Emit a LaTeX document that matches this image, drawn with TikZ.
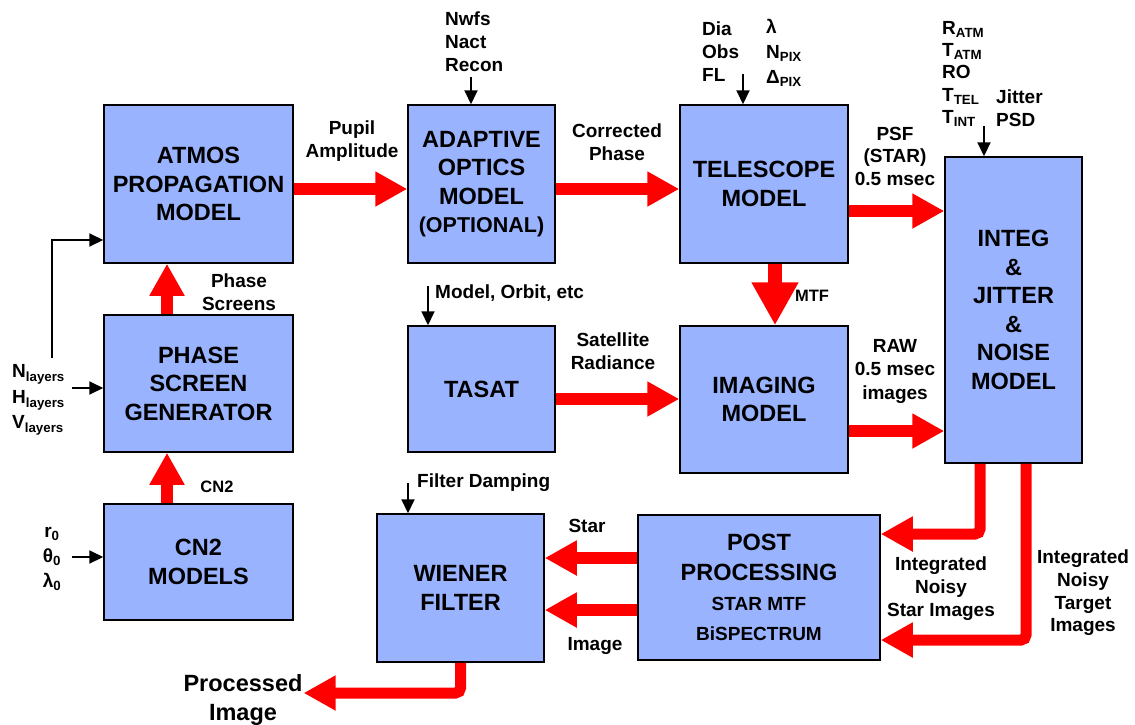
\documentclass[tikz,border=0pt]{standalone}
\usepackage{fontspec}
\setmainfont{Liberation Sans}
\usetikzlibrary{arrows.meta}
\definecolor{boxblue}{RGB}{153,179,255}

\begin{document}
\begin{tikzpicture}[x=1pt, y=-1pt,
  box/.style={draw, line width=1.5pt, fill=boxblue, align=center, inner sep=0pt, font=\bfseries\fontsize{23.5}{28.5}\selectfont},
  lbl/.style={align=center, inner sep=1pt, font=\bfseries\fontsize{19}{23}\selectfont},
  parm/.style={lbl, align=left, anchor=west},
  flow/.style={-{Triangle[length=32pt,width=33pt]}, line width=12pt, red, rounded corners=5pt},
  inp/.style={-{Triangle[length=14pt,width=13pt]}, line width=2pt},
]
\useasboundingbox (0,0) rectangle (1135,724);
\node[box, minimum width=189pt, minimum height=158pt] (atmos) at (198.5,184) {ATMOS\\PROPAGATION\\MODEL};
\node[box, minimum width=189pt, minimum height=137pt] (psg) at (198.5,383.5) {PHASE\\SCREEN\\GENERATOR};
\node[box, minimum width=189pt, minimum height=116pt] (cn2) at (198.5,562) {CN2\\MODELS};
\node[box, minimum width=147pt, minimum height=158pt] (ao) at (481.5,184) {ADAPTIVE\\OPTICS\\MODEL\\\fontsize{21.5}{28.5}\selectfont(OPTIONAL)};
\node[box, minimum width=147pt, minimum height=126pt] (tasat) at (481.5,389) {TASAT};
\node[box, minimum width=168pt, minimum height=158pt] (tel) at (764,184) {TELESCOPE\\MODEL};
\node[box, minimum width=168pt, minimum height=147pt] (img) at (764,399.5) {IMAGING\\MODEL};
\node[box, minimum width=137pt, minimum height=306pt] (integ) at (1013.5,310) {INTEG\\\&\\JITTER\\\&\\NOISE\\MODEL};
\node[box, minimum width=242pt, minimum height=145pt, font=\bfseries\fontsize{23.5}{30}\selectfont] (post) at (759,587.5) {POST\\PROCESSING\\\fontsize{19}{24.5}\selectfont STAR MTF\\\fontsize{19}{23}\selectfont BiSPECTRUM};
\node[box, minimum width=167pt, minimum height=148pt] (wien) at (460.5,588) {WIENER\\FILTER};

\node[lbl] (pupil) at (352,141) {Pupil\\Amplitude};
\node[lbl] (corr) at (617,142) {Corrected\\Phase};
\node[lbl, font=\bfseries\fontsize{19}{22.5}\selectfont] (psf) at (895,156) {PSF\\(STAR)\\0.5 msec};
\node[lbl, font=\bfseries\fontsize{16.5}{20}\selectfont] (mtf) at (812,296) {MTF};
\node[lbl] (satrad) at (613,351) {Satellite\\Radiance};
\node[lbl, font=\bfseries\fontsize{19}{23.5}\selectfont] (raw) at (895,371) {RAW\\0.5 msec\\images};
\node[lbl] (screens) at (239,292) {Phase\\Screens};
\node[lbl, font=\bfseries\fontsize{16.5}{20}\selectfont] (cn2lbl) at (217,487) {CN2};
\node[lbl] (starimg) at (941,589) {Integrated\\Noisy\\Star Images};
\node[lbl, font=\bfseries\fontsize{19}{22.7}\selectfont] (tgtimg) at (1083,593) {Integrated\\Noisy\\Target\\Images};
\node[lbl] (star) at (587,526) {Star};
\node[lbl] (image) at (595,646) {Image};
\node[lbl, font=\bfseries\fontsize{23.5}{29}\selectfont] (out) at (243,700) {Processed\\Image};

\node[parm] (nwfs) at (444,42) {Nwfs\\Nact\\Recon};
\node[parm] (dia) at (701,52) {Dia\\Obs\\FL};
\node[parm, font=\bfseries\fontsize{19}{25}\selectfont] (lam) at (765,53) {λ\\N\textsubscript{PIX}\\Δ\textsubscript{PIX}};
\node[parm, font=\bfseries\fontsize{19}{22.3}\selectfont] (ratm) at (941,74) {R\textsubscript{ATM}\\T\textsubscript{ATM}\\RO\\T\textsubscript{TEL}\\T\textsubscript{INT}};
\node[parm] (jit) at (995,108) {Jitter\\PSD};
\node[parm] (orbit) at (434,293) {Model, Orbit, etc};
\node[parm] (damp) at (416,483) {Filter Damping};
\node[parm, font=\bfseries\fontsize{19}{25.5}\selectfont] (layers) at (11,400) {N\textsubscript{layers}\\H\textsubscript{layers}\\V\textsubscript{layers}};
\node[lbl, font=\bfseries\fontsize{19}{25}\selectfont] (seeing) at (52,559) {r\textsubscript{0}\\θ\textsubscript{0}\\λ\textsubscript{0}};

\coordinate (aoin) at (471,77);
\coordinate (telin) at (743,74);
\coordinate (integin) at (984,126);
\coordinate (tasin) at (428,286);
\coordinate (wienin) at (408,483);
\coordinate (atmin) at (52,358);
\coordinate (psgin) at (72,388);
\coordinate (cn2in) at (72,557);

\draw[inp] (aoin) -- (aoin |- ao.north);
\draw[inp] (telin) -- (telin |- tel.north);
\draw[inp] (integin) -- (integin |- integ.north);
\draw[inp] (tasin) -- (tasin |- tasat.north);
\draw[inp] (wienin) -- (wienin |- wien.north);
\draw[inp] (atmin) |- ([yshift=-56pt]atmos.west);
\draw[inp] (psgin) -- (psgin -| psg.west);
\draw[inp] (cn2in) -- (cn2in -| cn2.west);

\draw[flow] ([yshift=-5pt]atmos.east) -- ([yshift=-5pt]atmos.east -| ao.west);
\draw[flow] ([yshift=-5pt]ao.east) -- ([yshift=-5pt]ao.east -| tel.west);
\draw[flow] ([yshift=-27pt]tel.east) -- ([yshift=-27pt]tel.east -| integ.west);
\draw[flow, line width=14pt, -{Triangle[length=43pt,width=44pt]}] ([xshift=11pt]tel.south) -- ([xshift=11pt]img.north);
\draw[flow] ([yshift=-10pt]tasat.east) -- ([yshift=-10pt]tasat.east -| img.west);
\draw[flow] ([yshift=-31.5pt]img.east) -- ([yshift=-31.5pt]img.east -| integ.west);
\draw[flow] ([xshift=-31.5pt]psg.north) -- ([xshift=-31.5pt]atmos.south);
\draw[flow] ([xshift=-31.5pt]cn2.north) -- ([xshift=-31.5pt]psg.south);
\draw[flow, line width=11pt] ([xshift=-33.5pt]integ.south) |- ([yshift=53.5pt]post.east);
\draw[flow, line width=11pt] ([xshift=12.5pt]integ.south) |- ([yshift=-52.5pt]post.east);
\draw[flow] ([yshift=29.5pt]post.west) -- ([yshift=29.5pt]post.west -| wien.east);
\draw[flow] ([yshift=-22.5pt]post.west) -- ([yshift=-22.5pt]post.west -| wien.east);
\draw[flow, line width=11pt] (wien.south) |- ([yshift=7pt]out.east);
\end{tikzpicture}
\end{document}
